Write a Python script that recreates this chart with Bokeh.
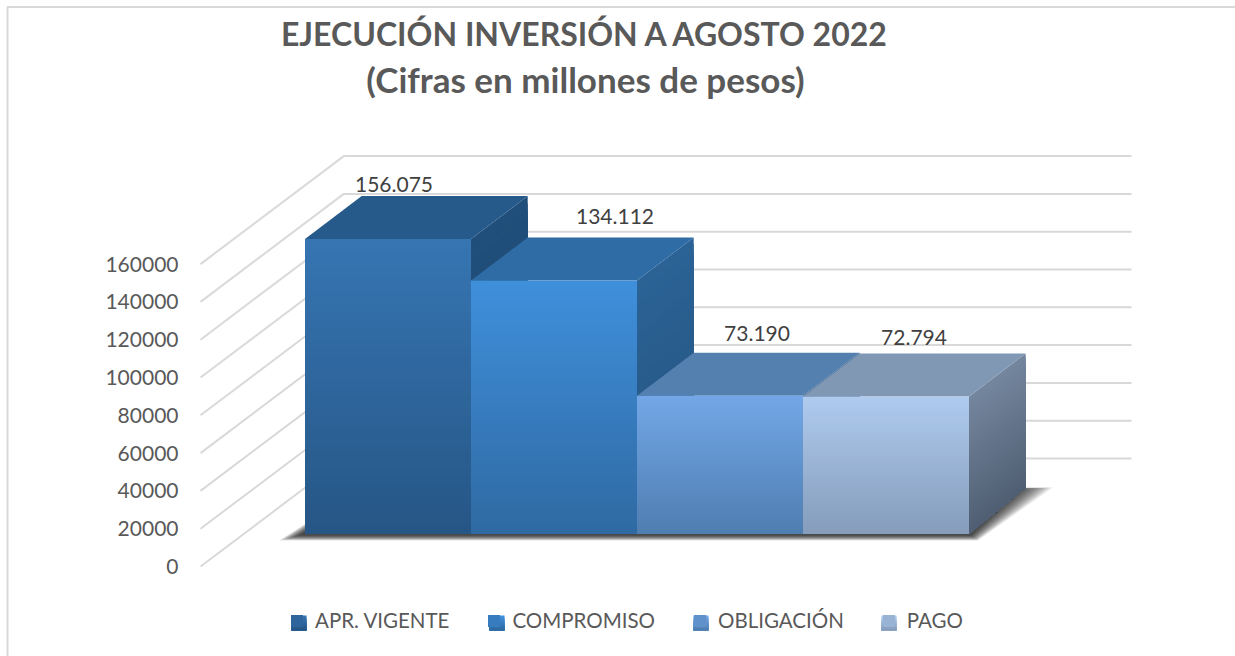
from bokeh.plotting import figure
from bokeh.models import (Range1d, FixedTicker, BasicTickFormatter, Legend, LegendItem,
                          ColumnDataSource)
from bokeh.core.properties import value
from bokeh.embed import file_html
from bokeh.resources import INLINE

# ---- data -------------------------------------------------------------
categories = ["APR. VIGENTE", "COMPROMISO", "OBLIGACIÓN", "PAGO"]
values = [156075, 134112, 73190, 72794]
value_labels = ["156.075", "134.112", "73.190", "72.794"]
y_ticks = [0, 20000, 40000, 60000, 80000, 100000, 120000, 140000, 160000]
title_line_1 = "EJECUCIÓN INVERSIÓN A AGOSTO 2022"
title_line_2 = "(Cifras en millones de pesos)"

# ---- styles -----------------------------------------------------------
front_top = ["#3675b2", "#3f8fdb", "#72a6e6", "#aecaee"]
front_bottom = ["#265686", "#2f6aa3", "#4f7eb1", "#869dbc"]
top_face = ["#265a8a", "#2f6ba4", "#5480b0", "#8198b4"]
side_top = ["#204f7b", "#2b6396", "#3f6690", "#74869e"]
side_bottom = ["#1d466d", "#24527e", "#38597d", "#505f73"]
FONT = "Lato"
GRID = "#d9d9d9"

# ---- projection: page pixels <-> value scale ---------------------------
PX_PER_UNIT = 295 / 156075
ZERO_PX = 566            # page y of value 0 at the front edge of the floor
DEPTH_BAR_FRONT = 32.5   # px up the floor
DEPTH_BAR = 43
DEPTH_BAR_BASE_EXTRA = 3
BAR_DX = 56.7
DEPTH_WALL = 108
SKEW = 142 / 107         # x shift per px of depth
AXIS_X = 200
BAR_LEFT = 304.5
BAR_W = 166
WALL_RIGHT = 1131
W, H = 1235, 656


def py(pixel):
    return (ZERO_PX - pixel) / PX_PER_UNIT


def at_depth(v, depth):
    return v + depth / PX_PER_UNIT


def mix(c1, c2, t):
    a = [int(c1[i:i + 2], 16) for i in (1, 3, 5)]
    b = [int(c2[i:i + 2], 16) for i in (1, 3, 5)]
    return "#%02x%02x%02x" % tuple(round(a[i] + (b[i] - a[i]) * t) for i in range(3))


p = figure(width=W, height=H, output_backend="svg", toolbar_location=None,
           x_range=Range1d(0, W), y_range=Range1d(py(H), py(0)),
           min_border=0, outline_line_color=None, background_fill_color="#ffffff",
           border_fill_color="#ffffff")
p.xaxis.visible = False
p.xgrid.visible = False
p.ygrid.visible = False

# value axis at the front-left edge of the side wall
ax = p.yaxis[0]
ax.fixed_location = AXIS_X
ax.ticker = FixedTicker(ticks=y_ticks)
ax.formatter = BasicTickFormatter(use_scientific=False)
ax.axis_line_color = None
ax.major_tick_line_color = None
ax.minor_tick_line_color = None
ax.major_tick_in = 0
ax.major_tick_out = 0
ax.major_label_standoff = 22
ax.major_label_text_font = FONT
ax.major_label_text_font_size = "21px"
ax.major_label_text_color = "#595959"

# chart border
p.line([7, 7, W], [py(H), py(6.5), py(6.5)], line_color=GRID, line_width=2)

# walls: gridlines
wall_x = AXIS_X + DEPTH_WALL * SKEW
for t in y_ticks:
    p.line([AXIS_X, wall_x, WALL_RIGHT], [t, at_depth(t, DEPTH_WALL), at_depth(t, DEPTH_WALL)],
           line_color=GRID, line_width=2)

# soft shadow on the floor: many faint layers, shrinking towards the bars
n_bars = len(values)
right = BAR_LEFT + n_bars * BAR_W
LAYERS = 16
for k in range(LAYERS):
    t = k / (LAYERS - 1)
    xs = [BAR_LEFT - 26 + 20 * t, right + 9 - 7 * t, right + 84 - 34 * t, right + 50, BAR_LEFT + 30]
    ys = [py(540 - 5 * t), py(540 - 5 * t), py(487 + 1.5 * t), py(487 + 1.5 * t), py(504 + 8 * t)]
    p.patch(xs, ys, fill_color="#000000", fill_alpha=.07, line_color=None)

# bars
STRIPS = 40
front_renderers = []
for i, v in enumerate(values):
    x0 = BAR_LEFT + i * BAR_W
    x1 = x0 + BAR_W
    base = at_depth(0, DEPTH_BAR_FRONT)
    top = at_depth(v, DEPTH_BAR_FRONT)
    base_b = at_depth(0, DEPTH_BAR_FRONT + DEPTH_BAR + DEPTH_BAR_BASE_EXTRA)
    top_b = at_depth(v, DEPTH_BAR_FRONT + DEPTH_BAR)

    # side face, graded: each strip runs down to the base so no seams show
    sx, sy, sc = [], [], []
    for j in range(STRIPS):
        f0 = j / STRIPS
        sx.append([x1, x1 + BAR_DX, x1 + BAR_DX, x1])
        sy.append([top + (base - top) * f0, top_b + (base_b - top_b) * f0, base_b, base])
        sc.append(mix(side_top[i], side_bottom[i], j / (STRIPS - 1)))
    p.patches(sx, sy, fill_color=sc, line_color=None)

    # top face
    p.patch([x0, x1, x1 + BAR_DX, x0 + BAR_DX], [top, top, top_b, top_b],
            fill_color=top_face[i], line_color=None)

    # front face, graded the same way
    src = ColumnDataSource(dict(
        left=[x0] * STRIPS, right=[x1] * STRIPS,
        top=[top + (base - top) * j / STRIPS for j in range(STRIPS)],
        bottom=[base] * STRIPS,
        color=[mix(front_top[i], front_bottom[i], j / (STRIPS - 1)) for j in range(STRIPS)],
    ))
    r = p.quad(left="left", right="right", top="top", bottom="bottom", source=src,
               fill_color="color", line_color=None)
    front_renderers.append(r)

# value labels
label_dx = [89, 310, 452, 609]
label_dy = [55, 64, 62, 59]
p.text(x=[BAR_LEFT + d for d in label_dx],
       y=[at_depth(v, DEPTH_BAR_FRONT) + d / PX_PER_UNIT for v, d in zip(values, label_dy)],
       text=value_labels, text_font=value(FONT), text_font_size="21px",
       text_color="#404040", text_align="center", text_baseline="middle")

# title
p.text(x=[585], y=[py(33)], text=[title_line_1], text_font=value(FONT),
       text_font_size="32px", text_font_style="bold", text_color="#595959",
       text_align="center", text_baseline="middle")
p.text(x=[585], y=[py(78)], text=[title_line_2], text_font=value(FONT),
       text_font_size="35px", text_font_style="bold", text_color="#595959",
       text_align="center", text_baseline="middle")

# legend
legend = Legend(
    items=[LegendItem(label=c, renderers=[r], index=STRIPS // 2)
           for c, r in zip(categories, front_renderers)],
    orientation="horizontal", location=(289, H - 632), margin=0, padding=0,
    spacing=37, glyph_width=15, glyph_height=15, label_standoff=11,
    label_text_font=FONT, label_text_font_size="20.5px", label_text_color="#595959",
    border_line_color=None, background_fill_alpha=0, click_policy="none",
)
p.add_layout(legend, "center")

# graded finish over the legend swatches
swatch_x = [291, 489, 693, 881]
for i, sx0 in enumerate(swatch_x):
    n = 8
    p.quad(left=[sx0] * n, right=[sx0 + 15] * n,
           top=[py(615 + 15 * j / n) for j in range(n)], bottom=[py(630)] * n,
           fill_color=[mix(front_top[i], front_bottom[i], j / (n - 1)) for j in range(n)],
           line_color=None, level="overlay")

open("out.html", "w").write(file_html(p, INLINE))
